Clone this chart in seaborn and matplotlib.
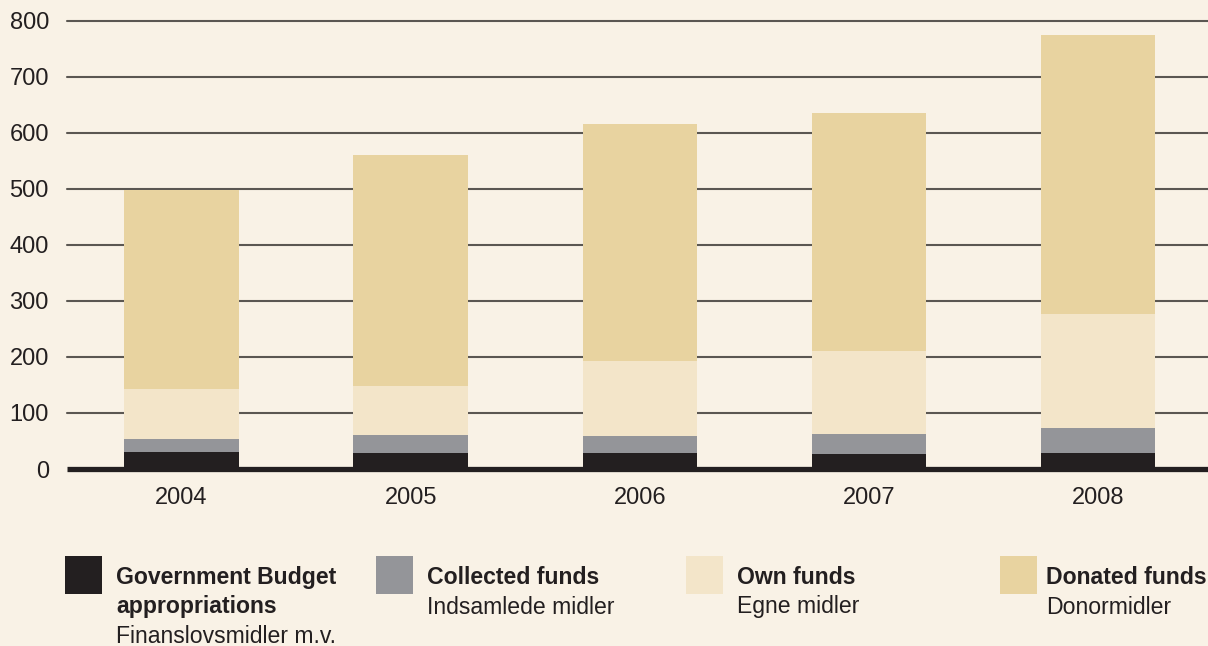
import matplotlib
matplotlib.use("Agg")
import matplotlib.pyplot as plt
import seaborn as sns
import pandas as pd
import numpy as np
from matplotlib.patches import Rectangle

years = ["2004", "2005", "2006", "2007", "2008"]
gov_budget = [30, 28, 28, 26, 28]
collected = [23, 32, 30, 36, 46]
own_funds = [89, 89, 134, 148, 202]
donated = [356, 411, 424, 425, 499]
y_ticks = [0, 100, 200, 300, 400, 500, 600, 700, 800]

series_names = ["Government Budget appropriations", "Collected funds", "Own funds", "Donated funds"]
legend_bold = [["Government Budget", "appropriations"], ["Collected funds"], ["Own funds"], ["Donated funds"]]
legend_regular = ["Finanslovsmidler m.v.", "Indsamlede midler", "Egne midler", "Donormidler"]
colors = ["#231f20", "#949599", "#f3e5c9", "#e8d3a0"]

BG = "#f9f2e6"
TXT = "#231f20"

sns.set_theme(style="white")
plt.rcParams["font.family"] = ["Liberation Sans", "DejaVu Sans"]

W, H = 1208, 646
fig = plt.figure(figsize=(W / 100, H / 100), dpi=100, facecolor=BG)
ax = fig.add_axes([67 / W, 1 - 469 / H, 1 - 67 / W, (469 - 20.7) / H])
ax.set_facecolor(BG)

stack = np.array([gov_budget, collected, own_funds, donated], dtype=float)
cum = np.cumsum(stack, axis=0)
df = pd.DataFrame({"year": years})
# draw tallest cumulative first so lower segments overlay
for i in range(3, -1, -1):
    df["val"] = cum[i]
    sns.barplot(data=df, x="year", y="val", order=years, color=colors[i],
                saturation=1, width=0.5, ax=ax, zorder=2, linewidth=0)

ax.set_xlim(-0.5, 4.48)
ax.set_ylim(0, 800)
ax.set_yticks(y_ticks)
ax.set_yticklabels([str(v) for v in y_ticks])
ax.set_xlabel("")
ax.set_ylabel("")
for s in ax.spines.values():
    s.set_visible(False)
for v in y_ticks[1:]:
    ax.axhline(v, color="#5b5752", lw=1.5, zorder=1, clip_on=False)
ax.axhline(0, color=TXT, lw=3.8, zorder=3, clip_on=False, solid_capstyle="butt")
ax.tick_params(axis="y", length=0, pad=13, labelsize=17, labelcolor=TXT)
ax.tick_params(axis="x", length=0, pad=13, labelsize=17, labelcolor=TXT)

# legend
sq_x = [65, 376, 686, 1000]
txt_x = [116, 427, 737, 1046]
baselines = [584.3, 613.5, 642.7]
for k in range(4):
    fig.patches.append(Rectangle((sq_x[k] / W, 1 - 594 / H), 37 / W, 38 / H,
                                 transform=fig.transFigure, facecolor=colors[k],
                                 edgecolor="none"))
    lines = legend_bold[k]
    for j, t in enumerate(lines):
        fig.text(txt_x[k] / W, 1 - baselines[j] / H, t, fontsize=16.6, fontweight="bold",
                 color=TXT, va="baseline", ha="left")
    fig.text(txt_x[k] / W, 1 - baselines[len(lines)] / H, legend_regular[k], fontsize=16.6,
             color=TXT, va="baseline", ha="left")

fig.savefig("out.png", dpi=100, facecolor=BG)
